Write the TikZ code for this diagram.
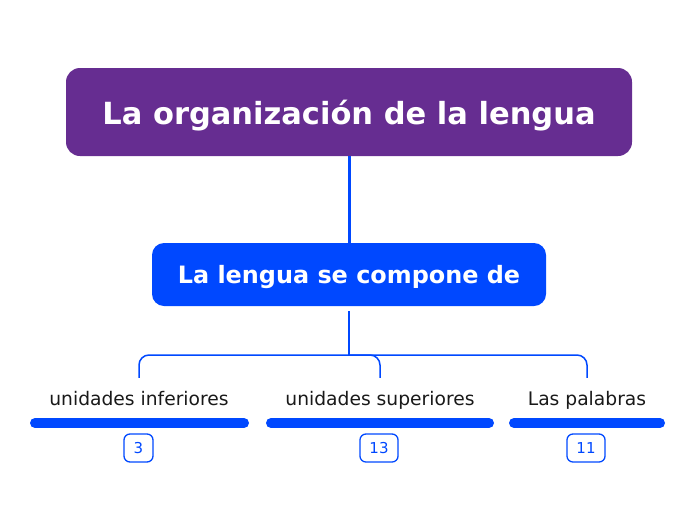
\documentclass[tikz,border=0pt]{standalone}
\usepackage{fontspec}
\setmainfont{DejaVu Sans}
\usetikzlibrary{positioning}
\definecolor{morado}{RGB}{102,45,145}
\definecolor{azul}{RGB}{0,72,255}
\tikzstyle{raiz} = [fill=morado,text=white,rounded corners=14pt,minimum width=566pt,minimum height=88pt,text height=30pt,text depth=6pt,font=\bfseries\fontsize{30.5}{36}\selectfont]
\tikzstyle{tema} = [fill=azul,text=white,rounded corners=12pt,minimum width=394pt,minimum height=63pt,text height=23pt,text depth=6pt,font=\bfseries\fontsize{23.9}{28}\selectfont]
\tikzstyle{hijo} = [font=\fontsize{18.7}{22}\selectfont,text=black!90,inner sep=0pt,text height=27pt,text depth=5pt]
\tikzstyle{rama} = [azul,line width=1.5pt,rounded corners=10pt]
\tikzstyle{barra} = [azul,line width=10pt,line cap=round]
\tikzstyle{cifra} = [draw=azul,text=azul,line width=1.3pt,rounded corners=6pt,minimum height=28pt,minimum width=29pt,inner xsep=9.5pt,font=\fontsize{15}{17}\selectfont]

\begin{document}
\begin{tikzpicture}[x=1pt,y=-1pt]
	\useasboundingbox (0,0) rectangle (696,520);

	\node[raiz] (R) at (349,112) {La organización de la lengua};
	\node[tema] (T) at (349,274.5) {La lengua se compone de};
	\draw[azul,line width=3pt] (R) -- (T);

	\coordinate (J) at (349,355);
	\draw[azul,line width=2pt] ([yshift=-5pt]T.south) -- (J);

	\node[hijo,anchor=base] (inf) at (139,405) {unidades inferiores};
	\node[hijo,anchor=base] (sup) at (380,405) {unidades superiores};
	\node[hijo,anchor=base] (pal) at (587,405) {Las palabras};

	\draw[rama] (J) -| (inf.north);
	\draw[rama] (J) -| (sup.north);
	\draw[rama] (J) -| (pal.north);

	\draw[barra] (35,423) -- (244,423);
	\draw[barra] (271,423) -- (489,423);
	\draw[barra] (514,423) -- (660,423);

	\node[cifra] (n3) at (138.5,448) {3};
	\node[cifra] (n13) at (379,448) {13};
	\node[cifra] (n11) at (586,448) {11};
\end{tikzpicture}
\end{document}
